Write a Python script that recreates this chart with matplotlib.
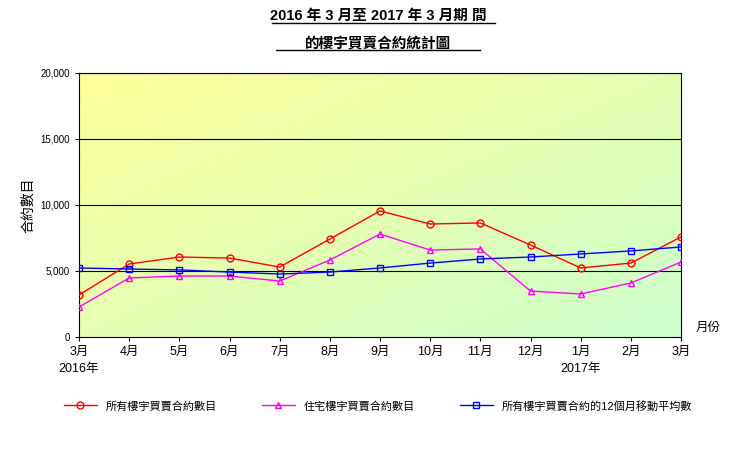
import numpy as np
import matplotlib.pyplot as plt
from matplotlib.colors import LinearSegmentedColormap

plt.rcParams["font.family"] = ["Liberation Sans", "Noto Sans CJK TC"]

months = ["3月\n2016年", "4月", "5月", "6月", "7月", "8月", "9月", "10月", "11月", "12月", "1月\n2017年", "2月", "3月"]
all_units = [3180, 5530, 6060, 5980, 5300, 7420, 9550, 8560, 8640, 6970, 5230, 5600, 7580]
residential = [2270, 4470, 4620, 4620, 4240, 5830, 7800, 6590, 6670, 3480, 3260, 4090, 5680]
moving_avg = [5230, 5150, 5080, 4920, 4770, 4920, 5230, 5600, 5910, 6060, 6290, 6520, 6820]

fig = plt.figure(figsize=(7.56, 4.53), dpi=100)
ax = fig.add_axes([79 / 756, 1 - 337 / 453, (681 - 79) / 756, (337 - 73) / 453])
x = np.arange(len(months))

# diagonal gradient background: yellow (top-left) to pale green (bottom-right)
gx, gy = np.meshgrid(np.linspace(0, 1, 200), np.linspace(0, 1, 200))
grad = (gx + (1 - gy)) / 2
cmap = LinearSegmentedColormap.from_list("bg", ["#ffff99", "#ccffcc"])
ax.imshow(grad, cmap=cmap, extent=[0, 12, 0, 20000], origin="lower", aspect="auto", zorder=0)

for v in [5000, 10000, 15000, 20000]:
    ax.axhline(v, color="black", lw=0.8, zorder=1)

ax.plot(x, all_units, color="red", marker="o", mfc="none", ms=5, lw=1, label="所有樓宇買賣合約數目", zorder=3)
ax.plot(x, residential, color="#ff00ff", marker="^", mfc="none", ms=5, lw=1, label="住宅樓宇買賣合約數目", zorder=3)
ax.plot(x, moving_avg, color="blue", marker="s", mfc="none", ms=5, lw=1, label="所有樓宇買賣合約的12個月移動平均數", zorder=3)

ax.set_xlim(0, 12)
ax.set_ylim(0, 20000)
ax.set_xticks(x)
ax.set_xticklabels(months, fontsize=9, linespacing=1.6)
ax.set_yticks([0, 5000, 10000, 15000, 20000])
ax.set_yticklabels(["0", "5,000", "10,000", "15,000", "20,000"], fontsize=7)
ax.tick_params(direction="out", length=3)
ax.set_ylabel("合約數目", fontsize=10)
ax.text(12.3, 200, "月份", fontsize=9, ha="left", va="bottom")

fig.text(0.5, 0.955, "2016 年 3 月至 2017 年 3 月期 間", ha="center", fontsize=10.5, fontweight="bold")
fig.text(0.5, 0.895, "的樓宇買賣合約統計圖", ha="center", fontsize=10.5, fontweight="bold")
fig.add_artist(plt.Line2D([0.36, 0.655], [0.95, 0.95], color="black", lw=1))
fig.add_artist(plt.Line2D([0.365, 0.635], [0.89, 0.89], color="black", lw=1))

fig.legend(loc="lower center", bbox_to_anchor=(0.5, 0.07), ncol=3, frameon=False,
           fontsize=8, handlelength=3, columnspacing=4)

fig.savefig("out.png", dpi=100)
